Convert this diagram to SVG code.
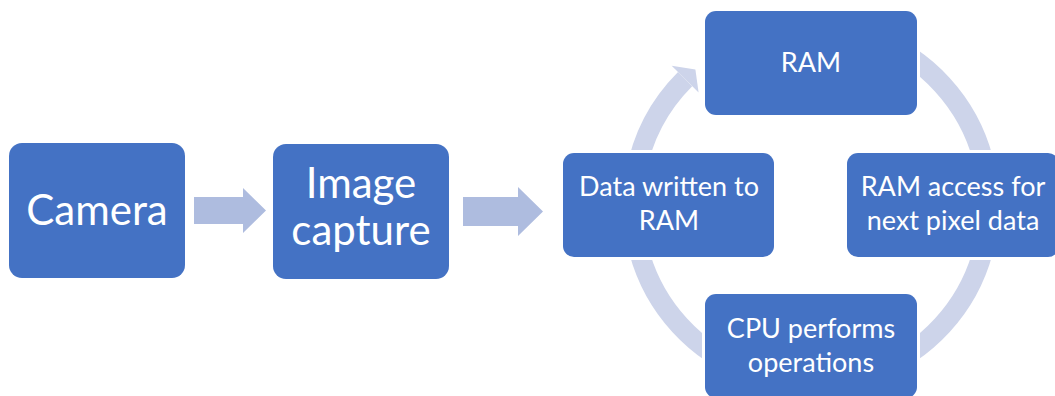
<svg xmlns="http://www.w3.org/2000/svg" width="1055" height="396" viewBox="0 0 1055 396">
<style>
.box{fill:#4472C4;stroke:#ffffff;stroke-width:6;paint-order:stroke}
.big{font-family:Lato,"Liberation Sans",sans-serif;font-size:42px;fill:#ffffff;text-anchor:middle}
.small{font-family:Lato,"Liberation Sans",sans-serif;font-size:27px;fill:#ffffff;text-anchor:middle}
.blk{fill:#AEBCDF}
.ring{fill:none;stroke:#CDD4EA;stroke-width:20}
</style>
<g id="connectors">
<polygon class="blk" points="194,197 243,197 243,188 266,210.5 243,233 243,224 194,224"/>
<polygon class="blk" points="463,197 518,197 518,187 543,211.5 518,236 518,226 463,226"/>
<path class="ring" d="M 635.7 174.1 A 178 178 0 0 1 685.1 79.1"/>
<polygon fill="#CDD4EA" points="671.7,65.7 695.4,69.5 698.6,92.6"/>
<path class="ring" d="M 872 37.7 A 178 178 0 0 1 983 158.9"/>
<path class="ring" d="M 983 251.1 A 178 178 0 0 1 872 372.3"/>
<path class="ring" d="M 750 372.3 A 178 178 0 0 1 639 251.1"/>
</g>
<g id="camera">
<rect class="box" x="9" y="143" width="176" height="135" rx="13" style="stroke-width:0"/>
<text class="big" x="97" y="225">Camera</text>
</g>
<g id="image-capture">
<rect class="box" x="273" y="144" width="176" height="135" rx="13" style="stroke-width:0"/>
<text class="big" x="361" y="198">Image</text>
<text class="big" x="361" y="245">capture</text>
</g>
<g id="ram">
<rect class="box" x="705" y="11" width="212" height="104" rx="11"/>
<text class="small" x="811" y="72">RAM</text>
</g>
<g id="data-written">
<rect class="box" x="563" y="153" width="211" height="104" rx="11"/>
<text class="small" x="669" y="196">Data written to</text>
<text class="small" x="669" y="230">RAM</text>
</g>
<g id="ram-access">
<rect class="box" x="847" y="153" width="212" height="104" rx="11"/>
<text class="small" x="953" y="196">RAM access for</text>
<text class="small" x="953" y="230">next pixel data</text>
</g>
<g id="cpu">
<rect class="box" x="705" y="294" width="212" height="104" rx="11"/>
<text class="small" x="811" y="338">CPU performs</text>
<text class="small" x="811" y="372">operations</text>
</g>
</svg>
